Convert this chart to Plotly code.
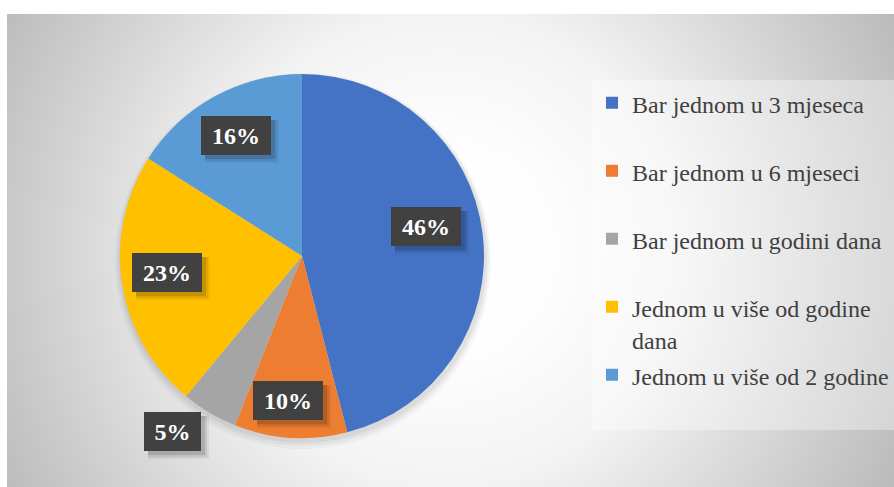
import math
import textwrap
import urllib.parse

import plotly.graph_objects as go

# ---- data -------------------------------------------------------------
categories = [
    "Bar jednom u 3 mjeseca",
    "Bar jednom u 6 mjeseci",
    "Bar jednom u godini dana",
    "Jednom u više od godine dana",
    "Jednom u više od 2 godine",
]
shares = [46, 10, 5, 23, 16]

# ---- styling ----------------------------------------------------------
colors = ["#4472C4", "#ED7D31", "#A5A5A5", "#FFC000", "#5B9BD5"]
W, H = 894, 487
CX, CY, R = 302, 256, 182          # pie centre / radius in pixels
LABEL_RADIUS = [0.70, 0.80, 1.20, 0.745, 0.755]   # label distance as fraction of R
LABEL_TURN = [-6.4, 2.1, 5.9, 2.2, 0.3]           # small angular nudges (deg)
SERIF = "Liberation Serif"

# chart area with a soft radial gradient (white centre, grey edges)
AX0, AY0 = 7, 14
AW, AH = W - AX0, H - AY0
svg = (
    f'<svg xmlns="http://www.w3.org/2000/svg" width="{AW}" height="{AH}" '
    f'viewBox="0 0 {AW} {AH}" preserveAspectRatio="none">'
    '<defs><radialGradient id="g" gradientUnits="userSpaceOnUse" '
    f'cx="{445 - AX0}" cy="{250 - AY0}" r="500">'
    '<stop offset="0" stop-color="#ffffff"/>'
    '<stop offset="0.2" stop-color="#fefefe"/>'
    '<stop offset="0.47" stop-color="#f3f3f3"/>'
    '<stop offset="0.87" stop-color="#c9c9c9"/>'
    '<stop offset="1" stop-color="#bcbcbc"/>'
    '</radialGradient></defs>'
    f'<rect x="0" y="0" width="{AW}" height="{AH}" fill="url(#g)"/>'
    '</svg>'
)
bg_uri = "data:image/svg+xml;charset=utf-8," + urllib.parse.quote(svg)


def legend_text(name):
    lines = textwrap.wrap(name, width=25)
    if len(lines) == 1:
        lines.append("\u00a0")
    return '<span style="font-size:24px">' + "<br>".join(lines) + "</span>"


fig = go.Figure(
    go.Pie(
        labels=[legend_text(c) for c in categories],
        values=shares,
        sort=False,
        direction="clockwise",
        rotation=0,
        marker=dict(colors=colors, line=dict(width=0)),
        textinfo="none",
        hoverinfo="skip",
        domain=dict(
            x=[(CX - R) / W, (CX + R) / W],
            y=[(H - CY - R) / H, (H - CY + R) / H],
        ),
    )
)

# soft shadow under the pie
shapes = []
for grow, dy, alpha in [(6, 5, 0.03), (4, 4, 0.04), (2, 3, 0.05)]:
    r = R + grow
    shapes.append(
        dict(
            type="circle", xref="paper", yref="paper", layer="below",
            x0=(CX - r + 1) / W, x1=(CX + r + 1) / W,
            y0=(H - CY - dy - r) / H, y1=(H - CY - dy + r) / H,
            fillcolor=f"rgba(0,0,0,{alpha})", line=dict(width=0),
        )
    )

# percentage labels in dark boxes with a drop shadow
annotations = []
total = sum(shares)
start = 0.0
boxes = []
for i, v in enumerate(shares):
    sweep = 360.0 * v / total
    mid = start + sweep / 2 + LABEL_TURN[i]
    start += sweep
    rad = math.radians(mid)
    px = CX + LABEL_RADIUS[i] * R * math.sin(rad)
    py = CY - LABEL_RADIUS[i] * R * math.cos(rad)
    text = f"{v}%"
    bw = 13 * len(text) + 31
    boxes.append((px, py, text, bw))

for px, py, text, bw in boxes:
    for off, grow, alpha in [(6, 4, 0.05), (5, 2, 0.08), (4, 0, 0.12)]:
        annotations.append(
            dict(
                x=(px + off) / W, y=1 - (py + off) / H, xref="paper", yref="paper",
                xanchor="center", yanchor="middle",
                text=" ", showarrow=False, width=bw + grow, height=39 + grow,
                bgcolor=f"rgba(0,0,0,{alpha})", borderwidth=0, borderpad=0,
            )
        )
for px, py, text, bw in boxes:
    annotations.append(
        dict(
            x=px / W, y=1 - py / H, xref="paper", yref="paper",
            xanchor="center", yanchor="middle",
            text=f"<b>{text}</b>", showarrow=False, width=bw, height=39,
            bgcolor="#414141", borderwidth=0, borderpad=0,
            font=dict(family=SERIF, size=24, color="#ffffff"),
        )
    )

fig.update_layout(
    width=W,
    height=H,
    margin=dict(l=0, r=0, t=0, b=0),
    paper_bgcolor="#ffffff",
    plot_bgcolor="#ffffff",
    font=dict(family=SERIF),
    images=[
        dict(
            source=bg_uri, xref="paper", yref="paper",
            x=AX0 / W, y=1 - AY0 / H, sizex=AW / W, sizey=AH / H,
            xanchor="left", yanchor="top", sizing="stretch", layer="below",
        )
    ],
    shapes=shapes,
    annotations=annotations,
    showlegend=True,
    legend=dict(
        x=592 / W, y=1 - 80 / H, xanchor="left", yanchor="top",
        bgcolor="rgba(255,255,255,0.35)", borderwidth=0,
        font=dict(family=SERIF, size=25, color="#404040"),
        valign="top", itemclick=False, itemdoubleclick=False,
    ),
)

fig.write_html("out.html")
